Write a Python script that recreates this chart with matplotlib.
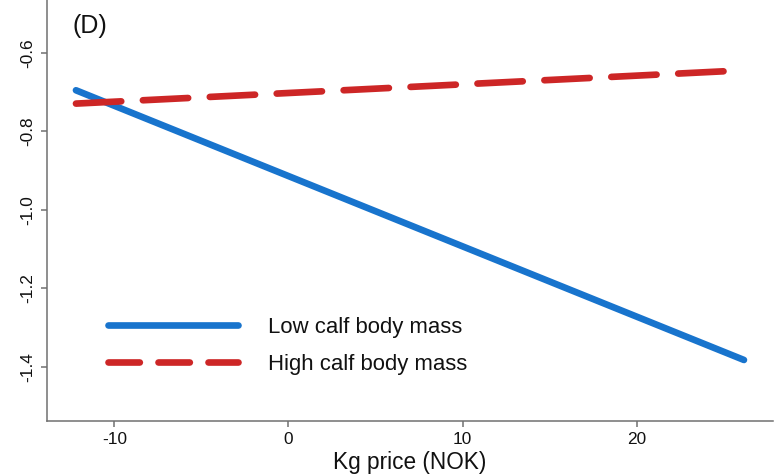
import matplotlib
matplotlib.use('Agg')
import matplotlib.pyplot as plt
from matplotlib.lines import Line2D

# Predicted effect vs. kg price for two calf body mass groups
price_range = [-12.2, 26.15]
low_mass = [-0.695, -1.383]
high_mass = [-0.729, -0.644]
series_labels = ['Low calf body mass', 'High calf body mass']
x_ticks = [-10, 0, 10, 20]
y_ticks = [-1.4, -1.2, -1.0, -0.8, -0.6]

blue = '#1874CD'
red = '#CD2626'
axis_grey = '#707070'

plt.rcParams['font.family'] = ['Liberation Sans', 'DejaVu Sans']
plt.rcParams['axes.unicode_minus'] = False

fig = plt.figure(figsize=(7.76, 4.76), dpi=100)
ax = fig.add_axes([46.7 / 776, 55 / 476, 726 / 776, 421 / 476])

ax.plot(price_range, low_mass, color=blue, lw=4.8, solid_capstyle='round')
ax.plot(price_range, high_mass, color=red, lw=4.8, dashes=(6.8, 3.25),
        dash_capstyle='round')

ax.set_xlim(-13.88, 27.8)
ax.set_ylim(-1.5387, -0.4647)
ax.set_xticks(x_ticks)
ax.set_yticks(y_ticks)
ax.set_yticklabels([f'{v:.1f}' for v in y_ticks])

for side in ['top', 'right']:
    ax.spines[side].set_visible(False)
for side in ['left', 'bottom']:
    ax.spines[side].set_color(axis_grey)
    ax.spines[side].set_linewidth(1.1)

ax.tick_params(axis='both', direction='out', length=4.6, width=1.1,
               color=axis_grey, labelsize=12.4, labelcolor='#111111')
ax.tick_params(axis='x', pad=3.5)
ax.tick_params(axis='y', pad=3.5, labelrotation=90)
for lbl in ax.get_yticklabels():
    lbl.set_va('center')

ax.set_xlabel('Kg price (NOK)', fontsize=16.3, color='#111111', labelpad=3)

ax.text(0.0349, 0.921, '(D)', transform=ax.transAxes, fontsize=18,
        color='#111111', va='baseline', ha='left')

# legend proxies with their own dash rhythm
handles = [
    Line2D([], [], color=blue, lw=4.8, solid_capstyle='round'),
    Line2D([], [], color=red, lw=4.8, dashes=(4.7, 2.8), dash_capstyle='round'),
]
ax.legend(handles, series_labels, loc='center left',
          bbox_to_anchor=(0.0844, 0.179), frameon=False, fontsize=15.9,
          handlelength=5.9, handletextpad=1.35, labelspacing=0.72,
          borderpad=0, borderaxespad=0, labelcolor='#111111')

fig.savefig('out.png', dpi=100)
